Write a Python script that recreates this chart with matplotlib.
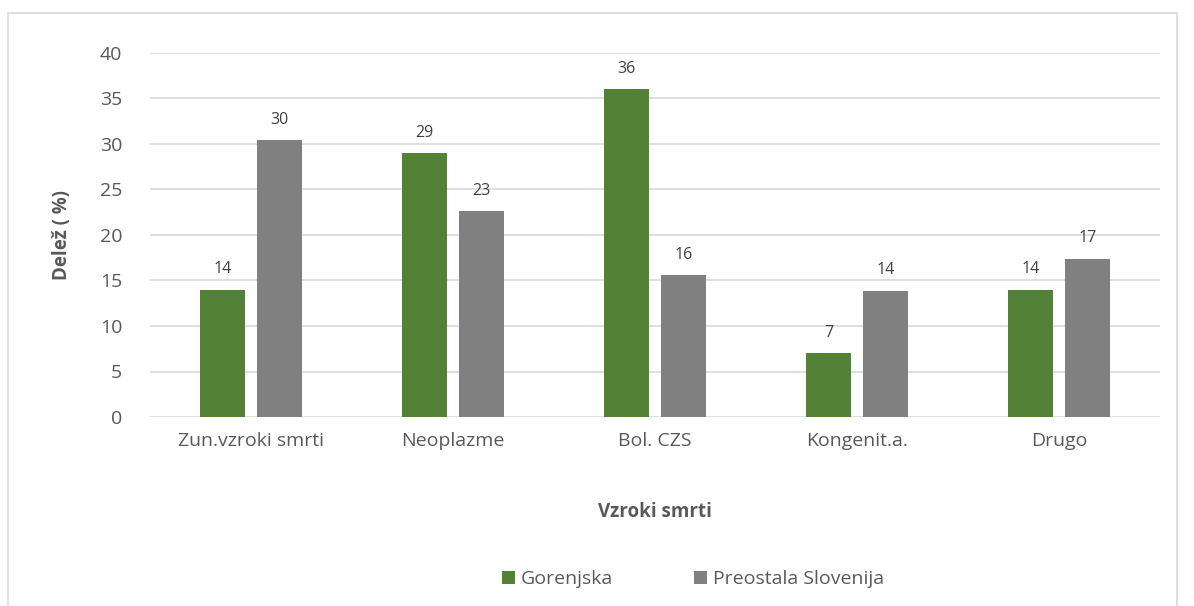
import numpy as np
import matplotlib.pyplot as plt
from matplotlib.patches import Rectangle

categories = ["Zun.vzroki smrti", "Neoplazme", "Bol. CZS", "Kongenit.a.", "Drugo"]
gorenjska = [14, 29, 36, 7, 14]
slovenija = [30.4, 22.6, 15.6, 13.9, 17.4]
series_names = ["Gorenjska", "Preostala Slovenija"]

plt.rcParams['font.family'] = ['Open Sans', 'DejaVu Sans']

fig = plt.figure(figsize=(11.94, 6.06), dpi=100)
ax = fig.add_axes([150 / 1194, 1 - 417 / 606, 1010 / 1194, 364 / 606])

# light frame around the chart area
fig.patches.append(Rectangle((8 / 1194, -0.01), 1169 / 1194, 1 - 13 / 606 + 0.01,
                             transform=fig.transFigure, fill=False,
                             edgecolor='#d9d9d9', linewidth=1.2))

x = np.arange(len(categories))
w = 0.222
off = 0.142
b1 = ax.bar(x - off, gorenjska, w, color='#538135', label=series_names[0], zorder=3)
b2 = ax.bar(x + off, slovenija, w, color='#808080', label=series_names[1], zorder=3)

for bars, vals in ((b1, gorenjska), (b2, slovenija)):
    for rect, v in zip(bars, vals):
        ax.annotate(f"{v:.0f}", (rect.get_x() + rect.get_width() / 2, v),
                    xytext=(0, 9), textcoords='offset points',
                    ha='center', va='bottom', fontsize=11.5, color='#404040')

ax.set_xlim(-0.5, len(categories) - 0.5)
ax.set_ylim(0, 40)
ax.set_yticks(range(0, 41, 5))
ax.grid(axis='y', color='#d9d9d9', linewidth=1.2, zorder=0)
for s in ax.spines.values():
    s.set_visible(False)
ax.tick_params(length=0, labelsize=14, colors='#595959')
ax.tick_params(axis='y', pad=20)
ax.tick_params(axis='x', pad=11)
ax.set_xticks(x)
ax.set_xticklabels(categories)

ax.set_ylabel("Delež ( %)", fontsize=13.5, fontweight='bold', color='#595959', labelpad=20)
ax.set_xlabel("Vzroki smrti", fontsize=13.5, fontweight='bold', color='#595959', labelpad=37)

fig.legend(handles=[b1, b2], loc='center', bbox_to_anchor=(693 / 1194, 1 - 579 / 606),
           ncol=2, frameon=False, fontsize=14, handlelength=0.65, handleheight=0.65,
           handletextpad=0.3, columnspacing=4.2, labelcolor='#595959')

fig.savefig("out.png", dpi=100)
